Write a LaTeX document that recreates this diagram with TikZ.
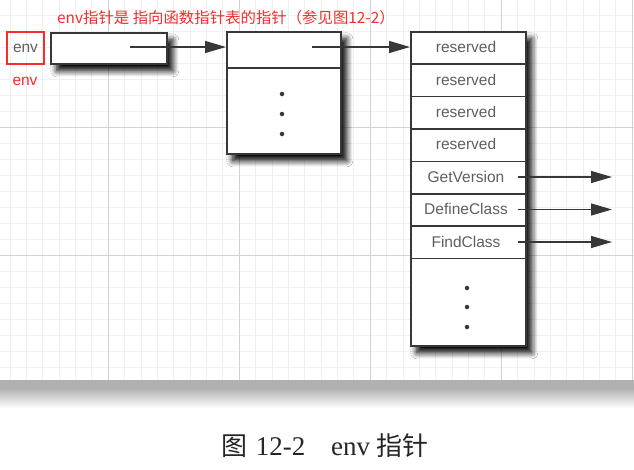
\documentclass[tikz,border=0pt]{standalone}
\usepackage{fontspec}
\setmainfont{Liberation Sans}
\newfontfamily\cjk{Noto Sans CJK SC}
\newfontfamily\serif{Liberation Serif}
\usetikzlibrary{arrows.meta,shadows.blur}
\definecolor{redann}{RGB}{245,45,45}
\definecolor{boxline}{RGB}{55,55,55}
\definecolor{lbl}{RGB}{95,95,95}
\tikzset{
  cell/.style={draw=boxline, line width=1.5pt, fill=white, inner sep=0pt, anchor=north west},
  shad/.style={fill=white, blur shadow={shadow xshift=6pt, shadow yshift=-7pt, shadow blur steps=10, shadow blur radius=6pt, shadow opacity=100}},
  lab/.style={text=lbl, font=\fontsize{15.5}{15.5}\selectfont},
  arr/.style={draw=boxline, line width=1.2pt, -{Triangle[length=21pt,width=12pt]}},
  dot/.style={circle, fill=boxline, inner sep=0pt, minimum size=4.5pt},
  minorgrid/.style={draw=gray!12, line width=0.5pt},
  majorgrid/.style={draw=gray!35, line width=0.8pt},
}
\begin{document}
\begin{tikzpicture}[x=1pt,y=-1pt]
\useasboundingbox (0,0) rectangle (634,469);
\fill[white] (0,0) rectangle (634,469);
% graph paper grid
\foreach \i in {0,...,40} {
  \draw[minorgrid] ({-6.6+16.375*\i},0) -- ({-6.6+16.375*\i},382);
}
\foreach \j in {0,...,23} {
  \draw[minorgrid] (0,{15+16*\j}) -- (634,{15+16*\j});
}
\foreach \i in {0,...,5} {
  \draw[majorgrid] ({-23+131*\i},0) -- ({-23+131*\i},382);
}
\foreach \j in {127,255} {
  \draw[majorgrid] (0,\j) -- (634,\j);
}
% bottom band
\fill[gray!62] (0,380) rectangle (634,388);
\shade[top color=gray!62, bottom color=white] (0,388) rectangle (634,408);

% annotation
\node[anchor=west, text=redann, font=\cjk\fontsize{15.4}{15.4}\selectfont, inner sep=0pt] (title) at (57,18) {env指针是 指向函数指针表的指针（参见图12-2）};
\node[draw=redann, line width=2pt, minimum width=37pt, minimum height=32pt, inner sep=0pt] (envbox) at (25.5,48) {};
\node[lab, inner sep=0pt] (envlbl) at (25.5,48) {env};
\node[text=redann, font=\fontsize{15.5}{15.5}\selectfont, inner sep=0pt] (envred) at (25,81) {env};

% box 1
\node[cell, shad, minimum width=116pt, minimum height=31pt] (b1) at (50,32) {};
% box 2
\node[cell, shad, minimum width=114pt, minimum height=122pt] (b2) at (226,31) {};
\node[cell, minimum width=114pt, minimum height=36pt] (b2top) at (226,31) {};
\node[dot] (d1) at (282,94) {};
\node[dot] (d2) at (282,114) {};
\node[dot] (d3) at (282,134) {};
% box 3
\node[cell, shad, minimum width=115pt, minimum height=314pt] (b3) at (410,31) {};
\foreach \k/\t in {0/reserved,1/reserved,2/reserved,3/reserved,4/GetVersion,5/DefineClass,6/FindClass} {
  \node[cell, minimum width=115pt, minimum height=32.4pt] (r\k) at (410,{31+32.4*\k}) {};
  \node[lab, inner sep=0pt] (t\k) at (466,{47.2+32.4*\k}) {\t};
}
\node[dot] (d4) at (467,288) {};
\node[dot] (d5) at (467,307) {};
\node[dot] (d6) at (467,327) {};

% arrows
\coordinate (s1) at (130,47);
\coordinate (s2) at (312,47);
\draw[arr] (s1) -- (s1 -| b2.west);
\draw[arr] (s2) -- (s2 -| b3.west);
\coordinate (g1) at (518,177);
\coordinate (g2) at (518,209.5);
\coordinate (g3) at (518,242);
\coordinate (e1) at (612,177);
\coordinate (e2) at (612,209.5);
\coordinate (e3) at (612,242);
\draw[arr] (g1) -- (e1);
\draw[arr] (g2) -- (e2);
\draw[arr] (g3) -- (e3);

% caption
\node[text=black!85, inner sep=0pt, font=\serif\fontsize{27}{27}\selectfont] (cap) at (325,446) {{\cjk\fontsize{26}{26}\selectfont 图}\hspace{2pt} 12-2\hspace{26pt}env {\cjk\fontsize{26}{26}\selectfont 指针}};
\end{tikzpicture}
\end{document}
